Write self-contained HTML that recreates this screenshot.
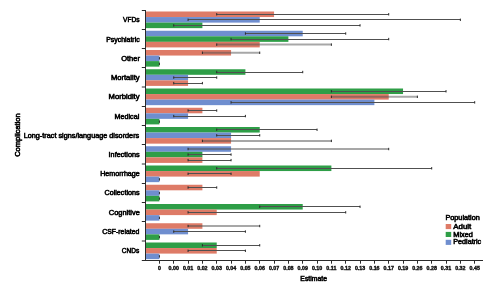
<!DOCTYPE html>
<html><head><meta charset="utf-8"><style>
html,body{margin:0;padding:0;background:#fff;width:496px;height:294px;overflow:hidden}
svg{display:block;will-change:transform}
text{font-family:"Liberation Sans",sans-serif;fill:#1a1a1a}
.yl{font-size:7.1px;font-weight:normal;stroke:#000;stroke-width:0.55px;fill:#000}
.xl{font-size:5.3px;font-weight:bold;stroke:#111;stroke-width:0.4px}
</style></head><body>
<svg width="496" height="294" viewBox="0 0 496 294">
<rect x="146.0" y="11.50" width="128.06" height="5.55" fill="#DE7B67"/>
<rect x="146.0" y="17.05" width="113.73" height="5.55" fill="#6F8ECF"/>
<rect x="146.0" y="22.60" width="56.40" height="5.55" fill="#2E9E47"/>
<rect x="146.0" y="30.75" width="156.72" height="5.55" fill="#6F8ECF"/>
<rect x="146.0" y="36.30" width="142.39" height="5.55" fill="#2E9E47"/>
<rect x="146.0" y="41.85" width="113.73" height="5.55" fill="#DE7B67"/>
<rect x="146.0" y="50.00" width="85.06" height="5.55" fill="#DE7B67"/>
<rect x="146.0" y="55.55" width="13.41" height="5.55" fill="#6F8ECF"/>
<rect x="146.0" y="61.10" width="13.41" height="5.55" fill="#2E9E47"/>
<rect x="146.0" y="69.25" width="99.40" height="5.55" fill="#2E9E47"/>
<rect x="146.0" y="74.80" width="42.07" height="5.55" fill="#6F8ECF"/>
<rect x="146.0" y="80.35" width="42.07" height="5.55" fill="#DE7B67"/>
<rect x="146.0" y="88.50" width="257.04" height="5.55" fill="#2E9E47"/>
<rect x="146.0" y="94.05" width="242.71" height="5.55" fill="#DE7B67"/>
<rect x="146.0" y="99.60" width="228.38" height="5.55" fill="#6F8ECF"/>
<rect x="146.0" y="107.75" width="56.40" height="5.55" fill="#DE7B67"/>
<rect x="146.0" y="113.30" width="42.07" height="5.55" fill="#6F8ECF"/>
<rect x="146.0" y="118.85" width="13.41" height="5.55" fill="#2E9E47"/>
<rect x="146.0" y="127.00" width="113.73" height="5.55" fill="#2E9E47"/>
<rect x="146.0" y="132.55" width="85.06" height="5.55" fill="#6F8ECF"/>
<rect x="146.0" y="138.10" width="85.06" height="5.55" fill="#DE7B67"/>
<rect x="146.0" y="146.25" width="85.06" height="5.55" fill="#6F8ECF"/>
<rect x="146.0" y="151.80" width="56.40" height="5.55" fill="#2E9E47"/>
<rect x="146.0" y="157.35" width="56.40" height="5.55" fill="#DE7B67"/>
<rect x="146.0" y="165.50" width="185.38" height="5.55" fill="#2E9E47"/>
<rect x="146.0" y="171.05" width="113.73" height="5.55" fill="#DE7B67"/>
<rect x="146.0" y="176.60" width="13.41" height="5.55" fill="#6F8ECF"/>
<rect x="146.0" y="184.75" width="56.40" height="5.55" fill="#DE7B67"/>
<rect x="146.0" y="190.30" width="13.41" height="5.55" fill="#6F8ECF"/>
<rect x="146.0" y="195.85" width="13.41" height="5.55" fill="#2E9E47"/>
<rect x="146.0" y="204.00" width="156.72" height="5.55" fill="#2E9E47"/>
<rect x="146.0" y="209.55" width="70.73" height="5.55" fill="#DE7B67"/>
<rect x="146.0" y="215.10" width="13.41" height="5.55" fill="#6F8ECF"/>
<rect x="146.0" y="223.25" width="56.40" height="5.55" fill="#DE7B67"/>
<rect x="146.0" y="228.80" width="42.07" height="5.55" fill="#6F8ECF"/>
<rect x="146.0" y="234.35" width="13.41" height="5.55" fill="#2E9E47"/>
<rect x="146.0" y="242.50" width="70.73" height="5.55" fill="#2E9E47"/>
<rect x="146.0" y="248.05" width="70.73" height="5.55" fill="#DE7B67"/>
<rect x="146.0" y="253.60" width="13.41" height="5.55" fill="#6F8ECF"/>
<line x1="216.73" x2="388.71" y1="14.50" y2="14.50" stroke="#505050" stroke-width="1"/>
<line x1="216.73" x2="216.73" y1="13.08" y2="15.47" stroke="#2a2a2a" stroke-width="1"/>
<line x1="388.71" x2="388.71" y1="13.08" y2="15.47" stroke="#2a2a2a" stroke-width="1"/>
<line x1="188.07" x2="460.36" y1="19.50" y2="19.50" stroke="#505050" stroke-width="1"/>
<line x1="188.07" x2="188.07" y1="18.62" y2="21.02" stroke="#2a2a2a" stroke-width="1"/>
<line x1="460.36" x2="460.36" y1="18.62" y2="21.02" stroke="#2a2a2a" stroke-width="1"/>
<line x1="173.74" x2="360.04" y1="25.50" y2="25.50" stroke="#505050" stroke-width="1"/>
<line x1="173.74" x2="173.74" y1="24.18" y2="26.57" stroke="#2a2a2a" stroke-width="1"/>
<line x1="360.04" x2="360.04" y1="24.18" y2="26.57" stroke="#2a2a2a" stroke-width="1"/>
<line x1="245.40" x2="345.71" y1="33.50" y2="33.50" stroke="#505050" stroke-width="1"/>
<line x1="245.40" x2="245.40" y1="32.32" y2="34.73" stroke="#2a2a2a" stroke-width="1"/>
<line x1="345.71" x2="345.71" y1="32.32" y2="34.73" stroke="#2a2a2a" stroke-width="1"/>
<line x1="231.06" x2="388.71" y1="39.50" y2="39.50" stroke="#505050" stroke-width="1"/>
<line x1="231.06" x2="231.06" y1="37.87" y2="40.27" stroke="#2a2a2a" stroke-width="1"/>
<line x1="388.71" x2="388.71" y1="37.87" y2="40.27" stroke="#2a2a2a" stroke-width="1"/>
<line x1="216.73" x2="331.38" y1="44.62" y2="44.62" stroke="rgba(80,80,80,0.5)" stroke-width="2"/>
<line x1="216.73" x2="216.73" y1="43.42" y2="45.83" stroke="#2a2a2a" stroke-width="1"/>
<line x1="331.38" x2="331.38" y1="43.42" y2="45.83" stroke="#2a2a2a" stroke-width="1"/>
<line x1="202.40" x2="259.73" y1="52.77" y2="52.77" stroke="rgba(80,80,80,0.5)" stroke-width="2"/>
<line x1="202.40" x2="202.40" y1="51.57" y2="53.98" stroke="#2a2a2a" stroke-width="1"/>
<line x1="259.73" x2="259.73" y1="51.57" y2="53.98" stroke="#2a2a2a" stroke-width="1"/>
<line x1="159.41" x2="159.41" y1="57.12" y2="59.52" stroke="#2a2a2a" stroke-width="1"/>
<line x1="159.41" x2="159.41" y1="62.67" y2="65.08" stroke="#2a2a2a" stroke-width="1"/>
<line x1="216.73" x2="302.72" y1="72.50" y2="72.50" stroke="#505050" stroke-width="1"/>
<line x1="216.73" x2="216.73" y1="70.83" y2="73.23" stroke="#2a2a2a" stroke-width="1"/>
<line x1="302.72" x2="302.72" y1="70.83" y2="73.23" stroke="#2a2a2a" stroke-width="1"/>
<line x1="173.74" x2="216.73" y1="77.50" y2="77.50" stroke="#505050" stroke-width="1"/>
<line x1="173.74" x2="173.74" y1="76.38" y2="78.78" stroke="#2a2a2a" stroke-width="1"/>
<line x1="216.73" x2="216.73" y1="76.38" y2="78.78" stroke="#2a2a2a" stroke-width="1"/>
<line x1="173.74" x2="202.40" y1="83.50" y2="83.50" stroke="#505050" stroke-width="1"/>
<line x1="173.74" x2="173.74" y1="81.92" y2="84.33" stroke="#2a2a2a" stroke-width="1"/>
<line x1="202.40" x2="202.40" y1="81.92" y2="84.33" stroke="#2a2a2a" stroke-width="1"/>
<line x1="331.38" x2="446.03" y1="91.50" y2="91.50" stroke="#505050" stroke-width="1"/>
<line x1="331.38" x2="331.38" y1="90.08" y2="92.48" stroke="#2a2a2a" stroke-width="1"/>
<line x1="446.03" x2="446.03" y1="90.08" y2="92.48" stroke="#2a2a2a" stroke-width="1"/>
<line x1="331.38" x2="417.37" y1="96.83" y2="96.83" stroke="rgba(80,80,80,0.5)" stroke-width="2"/>
<line x1="331.38" x2="331.38" y1="95.62" y2="98.03" stroke="#2a2a2a" stroke-width="1"/>
<line x1="417.37" x2="417.37" y1="95.62" y2="98.03" stroke="#2a2a2a" stroke-width="1"/>
<line x1="231.06" x2="474.69" y1="102.50" y2="102.50" stroke="#505050" stroke-width="1"/>
<line x1="231.06" x2="231.06" y1="101.17" y2="103.58" stroke="#2a2a2a" stroke-width="1"/>
<line x1="474.69" x2="474.69" y1="101.17" y2="103.58" stroke="#2a2a2a" stroke-width="1"/>
<line x1="188.07" x2="216.73" y1="110.50" y2="110.50" stroke="#505050" stroke-width="1"/>
<line x1="188.07" x2="188.07" y1="109.33" y2="111.73" stroke="#2a2a2a" stroke-width="1"/>
<line x1="216.73" x2="216.73" y1="109.33" y2="111.73" stroke="#2a2a2a" stroke-width="1"/>
<line x1="173.74" x2="245.40" y1="116.50" y2="116.50" stroke="#505050" stroke-width="1"/>
<line x1="173.74" x2="173.74" y1="114.88" y2="117.28" stroke="#2a2a2a" stroke-width="1"/>
<line x1="245.40" x2="245.40" y1="114.88" y2="117.28" stroke="#2a2a2a" stroke-width="1"/>
<line x1="159.41" x2="159.41" y1="120.42" y2="122.83" stroke="#2a2a2a" stroke-width="1"/>
<line x1="216.73" x2="317.05" y1="129.50" y2="129.50" stroke="#505050" stroke-width="1"/>
<line x1="216.73" x2="216.73" y1="128.58" y2="130.97" stroke="#2a2a2a" stroke-width="1"/>
<line x1="317.05" x2="317.05" y1="128.58" y2="130.97" stroke="#2a2a2a" stroke-width="1"/>
<line x1="216.73" x2="259.73" y1="135.50" y2="135.50" stroke="#505050" stroke-width="1"/>
<line x1="216.73" x2="216.73" y1="134.13" y2="136.53" stroke="#2a2a2a" stroke-width="1"/>
<line x1="259.73" x2="259.73" y1="134.13" y2="136.53" stroke="#2a2a2a" stroke-width="1"/>
<line x1="202.40" x2="331.38" y1="140.88" y2="140.88" stroke="rgba(80,80,80,0.5)" stroke-width="2"/>
<line x1="202.40" x2="202.40" y1="139.68" y2="142.07" stroke="#2a2a2a" stroke-width="1"/>
<line x1="331.38" x2="331.38" y1="139.68" y2="142.07" stroke="#2a2a2a" stroke-width="1"/>
<line x1="188.07" x2="388.71" y1="149.03" y2="149.03" stroke="rgba(80,80,80,0.5)" stroke-width="2"/>
<line x1="188.07" x2="188.07" y1="147.83" y2="150.22" stroke="#2a2a2a" stroke-width="1"/>
<line x1="388.71" x2="388.71" y1="147.83" y2="150.22" stroke="#2a2a2a" stroke-width="1"/>
<line x1="188.07" x2="231.06" y1="154.50" y2="154.50" stroke="#505050" stroke-width="1"/>
<line x1="188.07" x2="188.07" y1="153.38" y2="155.78" stroke="#2a2a2a" stroke-width="1"/>
<line x1="231.06" x2="231.06" y1="153.38" y2="155.78" stroke="#2a2a2a" stroke-width="1"/>
<line x1="188.07" x2="231.06" y1="160.50" y2="160.50" stroke="#505050" stroke-width="1"/>
<line x1="188.07" x2="188.07" y1="158.93" y2="161.32" stroke="#2a2a2a" stroke-width="1"/>
<line x1="231.06" x2="231.06" y1="158.93" y2="161.32" stroke="#2a2a2a" stroke-width="1"/>
<line x1="216.73" x2="431.70" y1="168.50" y2="168.50" stroke="#505050" stroke-width="1"/>
<line x1="216.73" x2="216.73" y1="167.08" y2="169.47" stroke="#2a2a2a" stroke-width="1"/>
<line x1="431.70" x2="431.70" y1="167.08" y2="169.47" stroke="#2a2a2a" stroke-width="1"/>
<line x1="188.07" x2="231.06" y1="173.50" y2="173.50" stroke="#505050" stroke-width="1"/>
<line x1="188.07" x2="188.07" y1="172.63" y2="175.03" stroke="#2a2a2a" stroke-width="1"/>
<line x1="231.06" x2="231.06" y1="172.63" y2="175.03" stroke="#2a2a2a" stroke-width="1"/>
<line x1="159.41" x2="159.41" y1="178.18" y2="180.57" stroke="#2a2a2a" stroke-width="1"/>
<line x1="188.07" x2="216.73" y1="187.50" y2="187.50" stroke="#505050" stroke-width="1"/>
<line x1="188.07" x2="188.07" y1="186.33" y2="188.72" stroke="#2a2a2a" stroke-width="1"/>
<line x1="216.73" x2="216.73" y1="186.33" y2="188.72" stroke="#2a2a2a" stroke-width="1"/>
<line x1="159.41" x2="159.41" y1="191.88" y2="194.28" stroke="#2a2a2a" stroke-width="1"/>
<line x1="159.41" x2="159.41" y1="197.43" y2="199.82" stroke="#2a2a2a" stroke-width="1"/>
<line x1="259.73" x2="360.04" y1="206.50" y2="206.50" stroke="#505050" stroke-width="1"/>
<line x1="259.73" x2="259.73" y1="205.58" y2="207.97" stroke="#2a2a2a" stroke-width="1"/>
<line x1="360.04" x2="360.04" y1="205.58" y2="207.97" stroke="#2a2a2a" stroke-width="1"/>
<line x1="188.07" x2="345.71" y1="212.50" y2="212.50" stroke="#505050" stroke-width="1"/>
<line x1="188.07" x2="188.07" y1="211.13" y2="213.53" stroke="#2a2a2a" stroke-width="1"/>
<line x1="345.71" x2="345.71" y1="211.13" y2="213.53" stroke="#2a2a2a" stroke-width="1"/>
<line x1="159.41" x2="159.41" y1="216.68" y2="219.07" stroke="#2a2a2a" stroke-width="1"/>
<line x1="188.07" x2="259.73" y1="226.03" y2="226.03" stroke="rgba(80,80,80,0.5)" stroke-width="2"/>
<line x1="188.07" x2="188.07" y1="224.83" y2="227.22" stroke="#2a2a2a" stroke-width="1"/>
<line x1="259.73" x2="259.73" y1="224.83" y2="227.22" stroke="#2a2a2a" stroke-width="1"/>
<line x1="173.74" x2="245.40" y1="231.50" y2="231.50" stroke="#505050" stroke-width="1"/>
<line x1="173.74" x2="173.74" y1="230.38" y2="232.78" stroke="#2a2a2a" stroke-width="1"/>
<line x1="245.40" x2="245.40" y1="230.38" y2="232.78" stroke="#2a2a2a" stroke-width="1"/>
<line x1="159.41" x2="159.41" y1="235.93" y2="238.32" stroke="#2a2a2a" stroke-width="1"/>
<line x1="202.40" x2="259.73" y1="245.50" y2="245.50" stroke="#505050" stroke-width="1"/>
<line x1="202.40" x2="202.40" y1="244.08" y2="246.47" stroke="#2a2a2a" stroke-width="1"/>
<line x1="259.73" x2="259.73" y1="244.08" y2="246.47" stroke="#2a2a2a" stroke-width="1"/>
<line x1="188.07" x2="245.40" y1="250.50" y2="250.50" stroke="#505050" stroke-width="1"/>
<line x1="188.07" x2="188.07" y1="249.63" y2="252.03" stroke="#2a2a2a" stroke-width="1"/>
<line x1="245.40" x2="245.40" y1="249.63" y2="252.03" stroke="#2a2a2a" stroke-width="1"/>
<line x1="159.41" x2="159.41" y1="255.18" y2="257.57" stroke="#2a2a2a" stroke-width="1"/>
<line x1="145.5" x2="145.5" y1="10" y2="260.5" stroke="#2a2a2a" stroke-width="1"/>
<line x1="141.8" x2="483" y1="260.5" y2="260.5" stroke="#2a2a2a" stroke-width="1"/>
<line x1="141.8" x2="145.5" y1="10.50" y2="10.50" stroke="#2a2a2a" stroke-width="1"/>
<line x1="141.8" x2="145.5" y1="29.50" y2="29.50" stroke="#2a2a2a" stroke-width="1"/>
<line x1="141.8" x2="145.5" y1="48.50" y2="48.50" stroke="#2a2a2a" stroke-width="1"/>
<line x1="141.8" x2="145.5" y1="67.50" y2="67.50" stroke="#2a2a2a" stroke-width="1"/>
<line x1="141.8" x2="145.5" y1="87.00" y2="87.00" stroke="#2a2a2a" stroke-width="1"/>
<line x1="141.8" x2="145.5" y1="106.50" y2="106.50" stroke="#2a2a2a" stroke-width="1"/>
<line x1="141.8" x2="145.5" y1="125.50" y2="125.50" stroke="#2a2a2a" stroke-width="1"/>
<line x1="141.8" x2="145.5" y1="144.50" y2="144.50" stroke="#2a2a2a" stroke-width="1"/>
<line x1="141.8" x2="145.5" y1="164.00" y2="164.00" stroke="#2a2a2a" stroke-width="1"/>
<line x1="141.8" x2="145.5" y1="183.50" y2="183.50" stroke="#2a2a2a" stroke-width="1"/>
<line x1="141.8" x2="145.5" y1="202.50" y2="202.50" stroke="#2a2a2a" stroke-width="1"/>
<line x1="141.8" x2="145.5" y1="221.50" y2="221.50" stroke="#2a2a2a" stroke-width="1"/>
<line x1="141.8" x2="145.5" y1="241.00" y2="241.00" stroke="#2a2a2a" stroke-width="1"/>
<line x1="159.50" x2="159.50" y1="260.5" y2="263.7" stroke="#2a2a2a" stroke-width="1"/>
<line x1="173.50" x2="173.50" y1="260.5" y2="263.7" stroke="#2a2a2a" stroke-width="1"/>
<line x1="188.50" x2="188.50" y1="260.5" y2="263.7" stroke="#2a2a2a" stroke-width="1"/>
<line x1="202.50" x2="202.50" y1="260.5" y2="263.7" stroke="#2a2a2a" stroke-width="1"/>
<line x1="216.50" x2="216.50" y1="260.5" y2="263.7" stroke="#2a2a2a" stroke-width="1"/>
<line x1="231.50" x2="231.50" y1="260.5" y2="263.7" stroke="#2a2a2a" stroke-width="1"/>
<line x1="245.50" x2="245.50" y1="260.5" y2="263.7" stroke="#2a2a2a" stroke-width="1"/>
<line x1="259.50" x2="259.50" y1="260.5" y2="263.7" stroke="#2a2a2a" stroke-width="1"/>
<line x1="274.50" x2="274.50" y1="260.5" y2="263.7" stroke="#2a2a2a" stroke-width="1"/>
<line x1="288.50" x2="288.50" y1="260.5" y2="263.7" stroke="#2a2a2a" stroke-width="1"/>
<line x1="302.50" x2="302.50" y1="260.5" y2="263.7" stroke="#2a2a2a" stroke-width="1"/>
<line x1="317.50" x2="317.50" y1="260.5" y2="263.7" stroke="#2a2a2a" stroke-width="1"/>
<line x1="331.50" x2="331.50" y1="260.5" y2="263.7" stroke="#2a2a2a" stroke-width="1"/>
<line x1="345.50" x2="345.50" y1="260.5" y2="263.7" stroke="#2a2a2a" stroke-width="1"/>
<line x1="360.50" x2="360.50" y1="260.5" y2="263.7" stroke="#2a2a2a" stroke-width="1"/>
<line x1="374.50" x2="374.50" y1="260.5" y2="263.7" stroke="#2a2a2a" stroke-width="1"/>
<line x1="388.50" x2="388.50" y1="260.5" y2="263.7" stroke="#2a2a2a" stroke-width="1"/>
<line x1="403.50" x2="403.50" y1="260.5" y2="263.7" stroke="#2a2a2a" stroke-width="1"/>
<line x1="417.50" x2="417.50" y1="260.5" y2="263.7" stroke="#2a2a2a" stroke-width="1"/>
<line x1="431.50" x2="431.50" y1="260.5" y2="263.7" stroke="#2a2a2a" stroke-width="1"/>
<line x1="446.50" x2="446.50" y1="260.5" y2="263.7" stroke="#2a2a2a" stroke-width="1"/>
<line x1="460.50" x2="460.50" y1="260.5" y2="263.7" stroke="#2a2a2a" stroke-width="1"/>
<line x1="474.50" x2="474.50" y1="260.5" y2="263.7" stroke="#2a2a2a" stroke-width="1"/>
<text x="139.63" y="22" text-anchor="end" class="yl" textLength="16.56" lengthAdjust="spacingAndGlyphs">VFDs</text>
<text x="139.67" y="42" text-anchor="end" class="yl" textLength="33.47" lengthAdjust="spacingAndGlyphs">Psychiatric</text>
<text x="139.88" y="61" text-anchor="end" class="yl" textLength="18.62" lengthAdjust="spacingAndGlyphs">Other</text>
<text x="139.61" y="80" text-anchor="end" class="yl" textLength="28.69" lengthAdjust="spacingAndGlyphs">Mortality</text>
<text x="139.56" y="99" text-anchor="end" class="yl" textLength="30.96" lengthAdjust="spacingAndGlyphs">Morbidity</text>
<text x="139.25" y="119" text-anchor="end" class="yl" textLength="24.64" lengthAdjust="spacingAndGlyphs">Medical</text>
<text x="139.18" y="138" text-anchor="end" class="yl" textLength="115.46" lengthAdjust="spacingAndGlyphs">Long-tract signs/language disorders</text>
<text x="139.66" y="157" text-anchor="end" class="yl" textLength="31.06" lengthAdjust="spacingAndGlyphs">Infections</text>
<text x="139.78" y="176" text-anchor="end" class="yl" textLength="39.61" lengthAdjust="spacingAndGlyphs">Hemorrhage</text>
<text x="139.62" y="195" text-anchor="end" class="yl" textLength="35.11" lengthAdjust="spacingAndGlyphs">Collections</text>
<text x="139.80" y="215" text-anchor="end" class="yl" textLength="30.92" lengthAdjust="spacingAndGlyphs">Cognitive</text>
<text x="139.32" y="234" text-anchor="end" class="yl" textLength="37.08" lengthAdjust="spacingAndGlyphs">CSF-related</text>
<text x="139.25" y="253" text-anchor="end" class="yl" textLength="17.39" lengthAdjust="spacingAndGlyphs">CNDs</text>
<text x="159.41" y="270.3" text-anchor="middle" class="xl">0</text>
<text x="173.74" y="270.3" text-anchor="middle" class="xl">0.00</text>
<text x="188.07" y="270.3" text-anchor="middle" class="xl">0.01</text>
<text x="202.40" y="270.3" text-anchor="middle" class="xl">0.02</text>
<text x="216.73" y="270.3" text-anchor="middle" class="xl">0.03</text>
<text x="231.06" y="270.3" text-anchor="middle" class="xl">0.04</text>
<text x="245.40" y="270.3" text-anchor="middle" class="xl">0.05</text>
<text x="259.73" y="270.3" text-anchor="middle" class="xl">0.06</text>
<text x="274.06" y="270.3" text-anchor="middle" class="xl">0.07</text>
<text x="288.39" y="270.3" text-anchor="middle" class="xl">0.08</text>
<text x="302.72" y="270.3" text-anchor="middle" class="xl">0.09</text>
<text x="317.05" y="270.3" text-anchor="middle" class="xl">0.10</text>
<text x="331.38" y="270.3" text-anchor="middle" class="xl">0.11</text>
<text x="345.71" y="270.3" text-anchor="middle" class="xl">0.12</text>
<text x="360.04" y="270.3" text-anchor="middle" class="xl">0.13</text>
<text x="374.38" y="270.3" text-anchor="middle" class="xl">0.16</text>
<text x="388.71" y="270.3" text-anchor="middle" class="xl">0.17</text>
<text x="403.04" y="270.3" text-anchor="middle" class="xl">0.19</text>
<text x="417.37" y="270.3" text-anchor="middle" class="xl">0.26</text>
<text x="431.70" y="270.3" text-anchor="middle" class="xl">0.28</text>
<text x="446.03" y="270.3" text-anchor="middle" class="xl">0.31</text>
<text x="460.36" y="270.3" text-anchor="middle" class="xl">0.32</text>
<text x="474.69" y="270.3" text-anchor="middle" class="xl">0.45</text>
<text x="300.30" y="280.70" text-anchor="start" class="yl" textLength="26.80" lengthAdjust="spacingAndGlyphs">Estimate</text>
<g transform="translate(20.20,156.80) rotate(-90)"><text x="0.00" y="0.00" text-anchor="start" class="yl" textLength="43.40" lengthAdjust="spacingAndGlyphs">Complication</text></g>
<text x="445.40" y="220.00" text-anchor="start" class="yl" textLength="34.40" lengthAdjust="spacingAndGlyphs">Population</text>
<rect x="445.7" y="224.00" width="5.5" height="5.1" fill="#DE7B67"/>
<text x="453.30" y="228.60" text-anchor="start" class="yl" textLength="17.90" lengthAdjust="spacingAndGlyphs">Adult</text>
<rect x="445.7" y="231.90" width="5.5" height="5.1" fill="#2E9E47"/>
<text x="453.30" y="236.50" text-anchor="start" class="yl" textLength="19.50" lengthAdjust="spacingAndGlyphs">Mixed</text>
<rect x="445.7" y="239.80" width="5.5" height="5.1" fill="#6F8ECF"/>
<text x="453.30" y="244.40" text-anchor="start" class="yl" textLength="27.90" lengthAdjust="spacingAndGlyphs">Pediatric</text>
</svg>
</body></html>
